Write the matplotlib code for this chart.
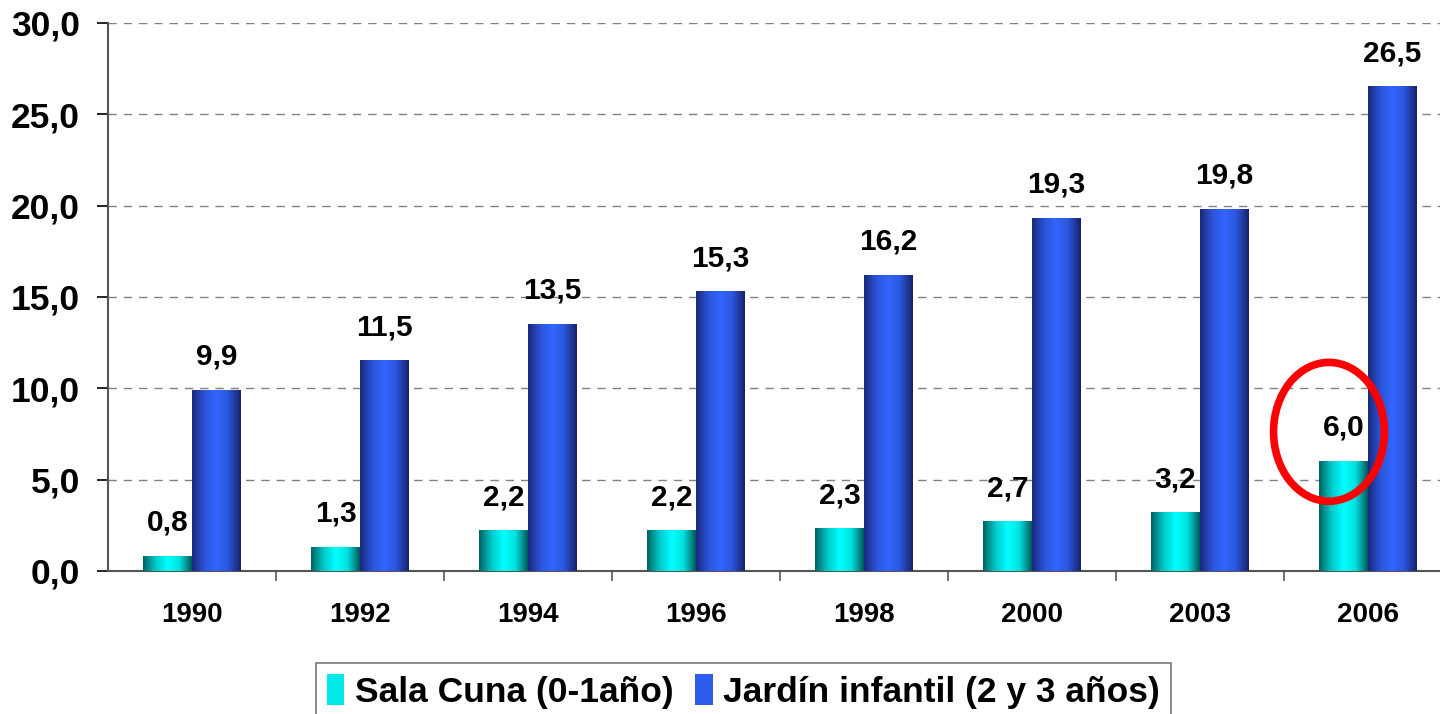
import numpy as np
import matplotlib.pyplot as plt
from matplotlib.colors import LinearSegmentedColormap
from matplotlib.patches import Ellipse, Patch
from matplotlib.ticker import FixedLocator

#<---------------------- Datos ---------------------->
years = ["1990", "1992", "1994", "1996", "1998", "2000", "2003", "2006"]
sala_cuna = [0.8, 1.3, 2.2, 2.2, 2.3, 2.7, 3.2, 6.0]
jardin = [9.9, 11.5, 13.5, 15.3, 16.2, 19.3, 19.8, 26.5]
labels = ["Sala Cuna (0-1año)", "Jardín infantil (2 y 3 años)"]
yticks = [0, 5, 10, 15, 20, 25, 30]

plt.rcParams['font.family'] = ['Liberation Sans', 'DejaVu Sans']
plt.rcParams['font.weight'] = 'bold'

#<---------------------- Degradados tipo cilindro ---------------------->
cmap_cyan = LinearSegmentedColormap.from_list("c", ["#006464", "#00c8c8", "#00ffff", "#00e0e0", "#005a5a"])
cmap_blue = LinearSegmentedColormap.from_list("b", ["#1a2a7a", "#2b55d8", "#3366ff", "#2d55dd", "#16236a"])
grad = np.linspace(0, 1, 64).reshape(1, -1)

fig = plt.figure(figsize=(14.4, 7.14), dpi=100)
ax = fig.add_axes([0.075, 0.2003, 0.9333, 0.7675])

x = np.arange(len(years))
w = 0.29
b1 = ax.bar(x - w/2, sala_cuna, w, color="#00e0e0", zorder=2)
b2 = ax.bar(x + w/2, jardin, w, color="#3366ff", zorder=2)

for bars, cm in [(b1, cmap_cyan), (b2, cmap_blue)]:
    for p in bars:
        x0 = p.get_x(); x1 = x0 + p.get_width(); h = p.get_height()
        ax.imshow(grad, cmap=cm, aspect="auto", extent=(x0, x1, 0, h), zorder=3, interpolation="bilinear")

#<---------------------- Etiquetas de valores ---------------------->
for bars in [b1, b2]:
    for p in bars:
        v = p.get_height()
        ax.annotate(f"{v:.1f}".replace(".", ","), (p.get_x() + p.get_width()/2, v),
                    xytext=(0, 14), textcoords="offset points", ha="center", va="bottom",
                    fontsize=21.5, fontweight="bold")

#<---------------------- Elipse roja en 2006 ---------------------->
last = b1[-1]
ax.add_patch(Ellipse((last.get_x() + last.get_width()*0.2, last.get_height()*1.27), 0.66, 7.6,
                     fill=False, edgecolor="#ff0000", lw=5.5, zorder=5))

#<---------------------- Ejes ---------------------->
ax.set_xlim(-0.5, len(years) - 0.5)
ax.set_ylim(0, 30)
ax.set_yticks(yticks)
ax.set_yticklabels([f"{v:.1f}".replace(".", ",") for v in yticks], fontsize=25.5, fontweight="bold")
ax.set_xticks(x)
ax.set_xticklabels(years, fontsize=20, fontweight="bold")
ax.xaxis.set_minor_locator(FixedLocator(x[:-1] + 0.5))
ax.tick_params(axis="x", which="major", length=0, pad=22)
ax.tick_params(axis="x", which="minor", length=7, width=1.2, color="#555555")
ax.tick_params(axis="y", length=8, width=1.2, pad=12)
for v in yticks[1:]:
    ax.axhline(v, color="#808080", ls=(0, (6, 5)), lw=1, zorder=1)
ax.spines["top"].set_visible(False)
ax.spines["right"].set_visible(False)
ax.spines["left"].set_color("#555555")
ax.spines["bottom"].set_color("#555555")
ax.spines["left"].set_linewidth(1.5)
ax.spines["bottom"].set_linewidth(1.5)

#<---------------------- Leyenda ---------------------->
handles = [Patch(facecolor="#00e8e8"), Patch(facecolor="#2f5cf0")]
leg = fig.legend(handles, labels, loc="upper left", bbox_to_anchor=(316/1440, 1 - 663/714),
                 ncol=2, frameon=True, fancybox=False, edgecolor="#555555",
                 prop={"family": ["Liberation Sans Narrow", "Liberation Sans"], "weight": "bold", "size": 25.5},
                 handlelength=0.5, handleheight=1.0, handletextpad=0.3, columnspacing=0.6,
                 borderpad=0.3, borderaxespad=0)
leg.get_frame().set_linewidth(1.2)

fig.savefig("out.png", dpi=100)
